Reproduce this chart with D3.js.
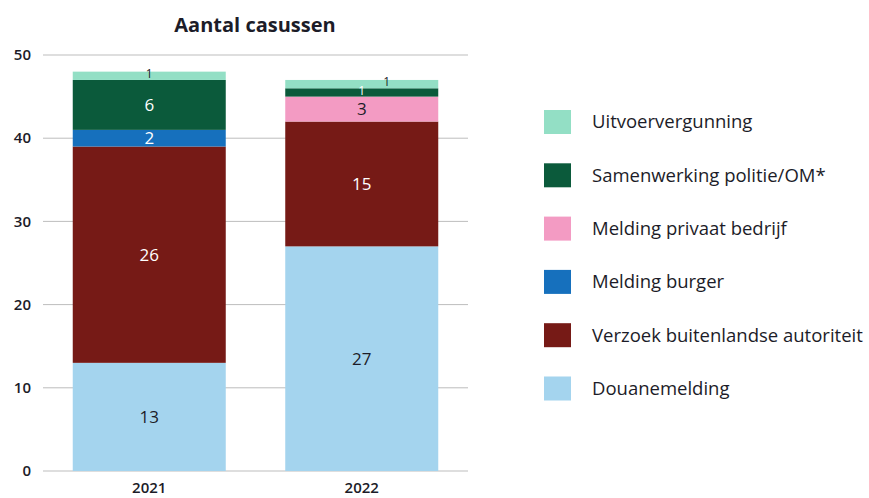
<!DOCTYPE html>
<html>
<head>
<meta charset="utf-8">
<script src="https://cdn.jsdelivr.net/npm/d3@7"></script>
<style>
  body { margin: 0; background: #fff; }
  text { font-family: "Open Sans", "Noto Sans", sans-serif; fill: #1c1c28; }
</style>
</head>
<body>
<div id="chart"></div>
<script>
const years = ["2021", "2022"];
const categories = ["Douanemelding", "Verzoek buitenlandse autoriteit", "Melding burger",
  "Melding privaat bedrijf", "Samenwerking politie/OM*", "Uitvoervergunning"];
const douanemelding = [13, 27];
const verzoek = [26, 15];
const burger = [2, 0];
const privaat = [0, 3];
const samenwerking = [6, 1];
const uitvoer = [1, 1];
const yTicks = [0, 10, 20, 30, 40, 50];
const colors = ["#a4d4ee", "#761a16", "#1670bd", "#f39bc3", "#0b5a3b", "#93dfc5"];
const labelColors = ["#1c1c28", "#ffffff", "#ffffff", "#1c1c28", "#ffffff", "#1c1c28"];

const series = [douanemelding, verzoek, burger, privaat, samenwerking, uitvoer];
const rows = years.map((y, i) => {
  const r = { year: y };
  categories.forEach((c, k) => r[c] = series[k][i]);
  return r;
});

const width = 869, height = 498;
const svg = d3.select("#chart").append("svg")
  .attr("width", width).attr("height", height);

const x = d3.scaleBand().domain(years).range([43, 468])
  .paddingInner(0.28).paddingOuter(0.14);
const y = d3.scaleLinear().domain([0, 50]).range([471, 55]);

// gridlines + y labels
svg.append("g").selectAll("line").data(yTicks).join("line")
  .attr("x1", 43).attr("x2", 468)
  .attr("y1", d => y(d)).attr("y2", d => y(d))
  .attr("stroke", "#bdbdbd").attr("stroke-width", 1);
svg.append("g").selectAll("text").data(yTicks).join("text")
  .attr("x", 31).attr("y", d => y(d)).attr("dy", "0.35em")
  .attr("text-anchor", "end").style("font-size", "15px").style("font-weight", 600)
  .text(d => d);

const stack = d3.stack().keys(categories)(rows);

const layer = svg.append("g").selectAll("g").data(stack).join("g")
  .attr("fill", (d, i) => colors[i]);
layer.selectAll("rect").data(d => d).join("rect")
  .attr("x", d => x(d.data.year))
  .attr("y", d => y(d[1]))
  .attr("width", x.bandwidth())
  .attr("height", d => y(d[0]) - y(d[1]));

// value labels; a thin segment sitting on another thin one is nudged right
stack.forEach((s, k) => {
  svg.append("g").selectAll("text").data(s.filter(d => d[1] - d[0] > 0)).join("text")
    .attr("x", (d, i) => {
      const cx = x(d.data.year) + x.bandwidth() / 2;
      const idx = years.indexOf(d.data.year);
      const below = k > 0 ? series[k - 1][idx] : 0;
      return (d[1] - d[0] < 1.5 && below > 0 && below < 1.5) ? cx + 25 : cx;
    })
    .attr("y", d => y((d[0] + d[1]) / 2) - ((d[1] - d[0]) < 1.5 ? 2 : 0))
    .attr("dy", "0.35em").attr("text-anchor", "middle")
    .style("font-size", d => (d[1] - d[0]) < 1.5 ? "12px" : "17px")
    .style("fill", labelColors[k])
    .text(d => d[1] - d[0]);
});

// x labels
svg.append("g").selectAll("text").data(years).join("text")
  .attr("x", d => x(d) + x.bandwidth() / 2).attr("y", 488)
  .attr("dy", "0.35em").attr("text-anchor", "middle")
  .style("font-size", "15px").style("font-weight", 600)
  .text(d => d);

// title
svg.append("text").attr("x", 255).attr("y", 25).attr("dy", "0.35em")
  .attr("text-anchor", "middle").style("font-size", "20px").style("font-weight", 700)
  .text("Aantal casussen");

// legend (top item = top of stack)
const legendItems = categories.map((c, i) => ({ c, color: colors[i] })).reverse();
const lg = svg.append("g").selectAll("g").data(legendItems).join("g")
  .attr("transform", (d, i) => `translate(544, ${110 + i * 53.3})`);
lg.append("rect").attr("width", 27).attr("height", 24).attr("fill", d => d.color);
lg.append("text").attr("x", 48).attr("y", 12).attr("dy", "0.35em")
  .style("font-size", "18.5px").text(d => d.c);
</script>
</body>
</html>
